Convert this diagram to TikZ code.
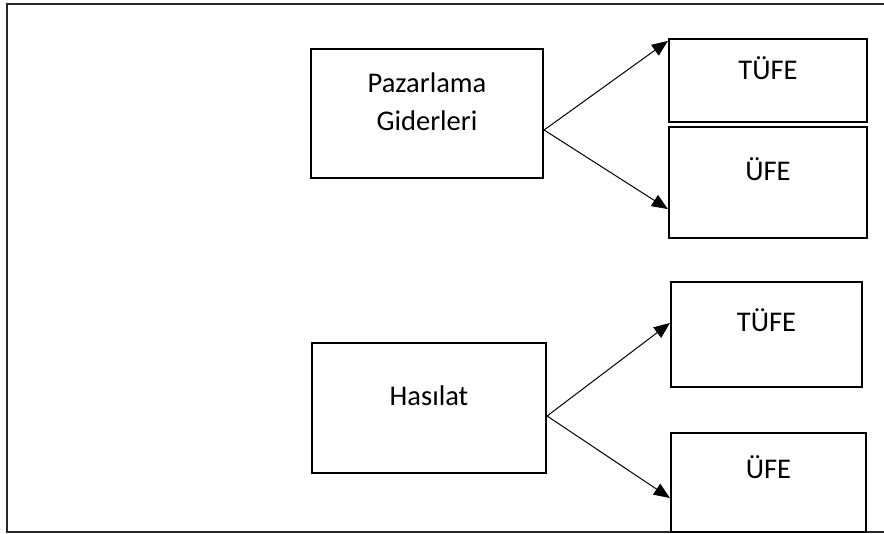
\documentclass[tikz,border=0pt]{standalone}
\usepackage{fontspec}
\setmainfont{Carlito}
\usetikzlibrary{arrows.meta, calc, positioning}
\tikzset{
    x=1pt, y=-1pt,% one unit is one pixel, y runs down
    box/.style = {draw, line width=2.2pt, inner sep=0pt}, % the box of one variable
    word/.style = {font=\fontsize{28.5}{38}\selectfont, align=center, inner sep=0pt, anchor=base},
    arr/.style = {-{Triangle[length=16pt, width=13pt]}, line width=1pt},
    frame/.style = {line width=2.2pt, draw=black!85}
}
\begin{document}
\begin{tikzpicture}
  \useasboundingbox (0,0) rectangle (884,534);
  \draw [frame] (884,4) -- (7,4) -- (7,532) -- (884,532);
  % left boxes
  \node [box, minimum width=232, minimum height=129] (pg) at (427,113.5) {};
  \node [box, minimum width=234, minimum height=130] (hs) at (429,408) {};
  % right boxes
  \node [box, minimum width=198, minimum height=83] (tufeA) at (768,80.5) {};
  \node [box, minimum width=198, minimum height=111] (ufeA) at (768,182.5) {};
  \node [box, minimum width=191, minimum height=105] (tufeB) at (766.5,334.5) {};
  \node [box, minimum width=195, minimum height=99] (ufeB) at (768.5,482.5) {};
  % texts (base is the last line)
  \node [word] (pgT) at ([yshift=-83pt]pg.north) {Pazarlama\\Giderleri};
  \node [word] (hsT) at ([yshift=-64pt]hs.north) {Hasılat};
  \node [word] (tufeAT) at ([yshift=-42pt]tufeA.north) {TÜFE};
  \node [word] (ufeAT) at ([yshift=-55pt]ufeA.north) {ÜFE};
  \node [word] (tufeBT) at ([yshift=-51pt]tufeB.north) {TÜFE};
  \node [word] (ufeBT) at ([yshift=-47pt]ufeB.north) {ÜFE};
  % arrows
  \draw [arr] ([yshift=-16.5pt]pg.east) -- ([yshift=-3pt]tufeA.north west);
  \draw [arr] ([yshift=-16.5pt]pg.east) -- ([yshift=30pt]ufeA.south west);
  \draw [arr] ([yshift=-8pt]hs.east) -- ([yshift=11.5pt]tufeB.west);
  \draw [arr] ([yshift=-8pt]hs.east) -- ([yshift=-15.5pt]ufeB.west);
\end{tikzpicture}
\end{document}
